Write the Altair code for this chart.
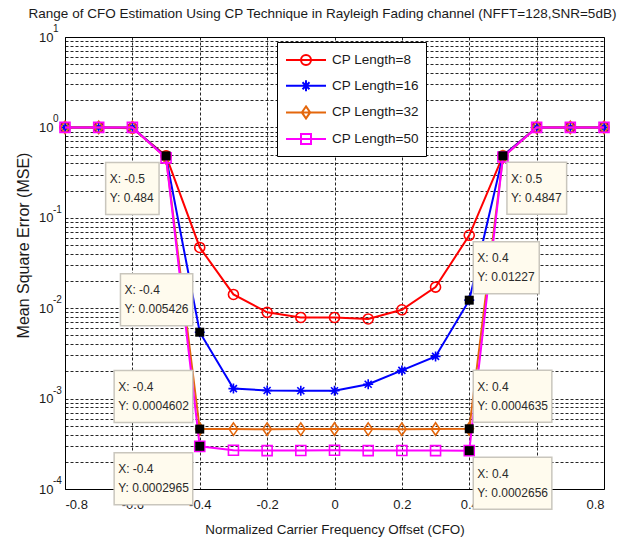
import altair as alt
import pandas as pd

# ---------------- data ----------------
x_vals = [-0.8, -0.7, -0.6, -0.5, -0.4, -0.3, -0.2, -0.1, 0.0,
          0.1, 0.2, 0.3, 0.4, 0.5, 0.6, 0.7, 0.8]
series_names = ["CP Length=8", "CP Length=16", "CP Length=32", "CP Length=50"]
mse_cp8 = [1.0, 1.0, 0.98, 0.484, 0.047, 0.0142, 0.0090, 0.0079, 0.0079,
           0.0076, 0.0096, 0.0171, 0.064, 0.4847, 1.0, 1.0, 1.0]
mse_cp16 = [1.0, 1.0, 1.0, 0.47, 0.005426, 0.00129, 0.00123, 0.00122, 0.00122,
            0.00144, 0.00205, 0.00293, 0.01227, 0.4847, 1.0, 1.0, 1.0]
mse_cp32 = [1.0, 1.0, 1.0, 0.46, 0.0004602, 0.00046, 0.000459, 0.00046, 0.000461,
            0.00046, 0.000459, 0.000461, 0.0004635, 0.47, 1.0, 1.0, 1.0]
mse_cp50 = [1.0, 1.0, 1.0, 0.46, 0.0002965, 0.000268, 0.000266, 0.000267, 0.000268,
            0.000266, 0.000267, 0.000266, 0.0002656, 0.47, 1.0, 1.0, 1.0]
series_values = [mse_cp8, mse_cp16, mse_cp32, mse_cp50]

tip_x = [-0.5, -0.4, -0.4, -0.4, 0.5, 0.4, 0.4, 0.4]
tip_y = [0.484, 0.005426, 0.0004602, 0.0002965, 0.4847, 0.01227, 0.0004635, 0.0002656]

x_ticks = [-0.8, -0.6, -0.4, -0.2, 0.0, 0.2, 0.4, 0.6, 0.8]
y_exponents = [-4, -3, -2, -1, 0, 1]

# ---------------- styles ----------------
colors = ["#ff0000", "#0000ff", "#e4670c", "#ff00ff"]
marker_paths = [
    "circle",
    "M0,-1L0,1M-1,0L1,0M-0.7,-0.7L0.7,0.7M-0.7,0.7L0.7,-0.7",
    "M0,-1.25L0.85,0L0,1.25L-0.85,0Z",
    "square",
]
# legend glyphs: a 40px line with the marker in the middle (unit = 10px)
legend_paths = [
    "M-2,0L2,0M0.5,0A0.5,0.5,0,1,1,-0.5,0A0.5,0.5,0,1,1,0.5,0",
    "M-2,0L2,0M0,-0.55L0,0.55M-0.5,0L0.5,0M-0.35,-0.35L0.35,0.35M-0.35,0.35L0.35,-0.35",
    "M-2,0L2,0M0,-0.6L0.42,0L0,0.6L-0.42,0Z",
    "M-2,0L2,0M-0.5,-0.5L0.5,-0.5L0.5,0.5L-0.5,0.5Z",
]
# placement of each data-tip box relative to its point: (side, vertical)
tip_place = [("left", "below"), ("left", "above"), ("left", "above"), ("left", "below"),
             ("right", "below"), ("right", "above"), ("right", "above"), ("right", "below")]

FONT = "Liberation Sans, Arial"
TXT = "#1a1a1a"

y_grid_values = []
for k in range(-4, 1):
    for m in range(1, 10):
        y_grid_values.append(float(f"{m}e{k}"))
y_grid_values.append(10.0)

y_label_expr = ("abs(log(datum.value)/LN10 - round(log(datum.value)/LN10)) < 1e-6 ? '10' : ''")
x_label_expr = ("abs(datum.value) < 1e-9 ? '0' : (datum.value < 0 ? '-' : '') + "
                "format(abs(datum.value), '.1f')")

x_enc = alt.X(
    "x:Q",
    scale=alt.Scale(domain=[-0.8, 0.8], nice=False, zero=False),
    axis=alt.Axis(values=x_ticks, labelExpr=x_label_expr,
                  title="Normalized Carrier Frequency Offset (CFO)",
                  grid=True, ticks=False, domain=False,
                  labelPadding=9, titlePadding=11),
)
y_enc = alt.Y(
    "mse:Q",
    scale=alt.Scale(type="log", domain=[1e-4, 10], nice=False),
    axis=alt.Axis(values=y_grid_values, labelExpr=y_label_expr,
                  title="Mean Square Error (MSE)", titleFontSize=16,
                  grid=True, ticks=False, domain=False, labelPadding=12,
                  titleX=-42, titleY=208, titleAngle=270, titleBaseline="middle",
                  titleAlign="center"),
)

legend_shape_signal = ""
for name, path in zip(series_names, legend_paths):
    legend_shape_signal += f"datum.value === '{name}' ? '{path}' : "
legend_shape_signal += "'circle'"

color_enc = alt.Color(
    "series:N",
    scale=alt.Scale(domain=series_names, range=colors),
    legend=alt.Legend(
        title=None, orient="none", legendX=212, legendY=5,
        fillColor="white", strokeColor="black", padding=7,
        labelFont=FONT, labelFontSize=13.5, labelColor=TXT,
        symbolSize=400, symbolStrokeWidth=2, symbolOffset=11,
        labelOffset=15, rowPadding=5.7,
        symbolType={"expr": legend_shape_signal},
        symbolFillColor="transparent",
    ),
)

layers = []
for i, (name, vals) in enumerate(zip(series_names, series_values)):
    df = pd.DataFrame({"x": x_vals, "mse": vals, "series": name})
    line = alt.Chart(df).mark_line(strokeWidth=2).encode(x=x_enc, y=y_enc, color=color_enc)
    pts = alt.Chart(df).mark_point(
        shape=marker_paths[i], filled=False, size=100, strokeWidth=1.6,
        color=colors[i], opacity=1,
    ).encode(x="x:Q", y="mse:Q")
    layers += [line, pts]

# exponents of the y-axis decade labels (10^k)
exp_df = pd.DataFrame({"mse": [10.0 ** k for k in y_exponents],
                       "exp": [str(k) for k in y_exponents]})
exp_layer = alt.Chart(exp_df).mark_text(
    align="left", baseline="middle", font=FONT, fontSize=10, color=TXT, dx=-12, dy=-8,
).encode(x=alt.datum(-0.8), y="mse:Q", text="exp:N")
layers.append(exp_layer)

# data tips
for (tx, ty), (side, vert) in zip(zip(tip_x, tip_y), tip_place):
    lab1 = f"X: {tx:g}"
    lab2 = f"Y: {ty:g}"
    w = 6.3 * len(lab2) + 3
    if side == "left":
        x0, x1 = -7 - w, -7
    else:
        x0, x1 = 4, 4 + w
    if vert == "above":
        y0, y1 = -58.5, -6.5
    else:
        y0, y1 = 6.5, 58.5
    tdf = pd.DataFrame({"x": [tx], "mse": [ty], "l1": [lab1], "l2": [lab2]})
    base = alt.Chart(tdf)
    sq = base.mark_square(size=81, color="black", opacity=1).encode(x="x:Q", y="mse:Q")
    box = base.mark_rect(
        fill="#fffbee", stroke="#c9c6bd", strokeWidth=1.5,
        xOffset=x0, x2Offset=x1, yOffset=y0, y2Offset=y1,
    ).encode(x="x:Q", x2="x", y="mse:Q", y2="mse")
    t1 = base.mark_text(align="left", baseline="middle", font=FONT, fontSize=12,
                        color="#2a2a2a", dx=x0 + 4, dy=y0 + 16.5).encode(
        x="x:Q", y="mse:Q", text="l1:N")
    t2 = base.mark_text(align="left", baseline="middle", font=FONT, fontSize=12,
                        color="#2a2a2a", dx=x0 + 4, dy=y0 + 35.5).encode(
        x="x:Q", y="mse:Q", text="l2:N")
    layers += [sq, box, t1, t2]

chart = alt.layer(*layers).properties(
    width=539, height=452,
    background="white",
    title=alt.TitleParams(
        "Range of CFO Estimation Using CP Technique in Rayleigh Fading channel (NFFT=128,SNR=5dB)",
        font=FONT, fontSize=13.5, fontWeight="normal", color=TXT,
        anchor="middle", dx=-12, dy=0, offset=4,
    ),
    autosize=alt.AutoSizeParams(type="none"),
    padding={"left": 65, "top": 37, "right": 39, "bottom": 53},
).configure_view(
    stroke="black", strokeWidth=1, fill="white",
).configure_axis(
    labelFont=FONT, labelFontSize=13, labelColor=TXT,
    titleFont=FONT, titleFontSize=13.4, titleFontWeight="normal", titleColor=TXT,
    gridColor="#000", gridOpacity=0.85, gridDash=[3, 2], gridWidth=1,
)

chart.save("out.html", embed_options={"renderer": "svg", "actions": False})
